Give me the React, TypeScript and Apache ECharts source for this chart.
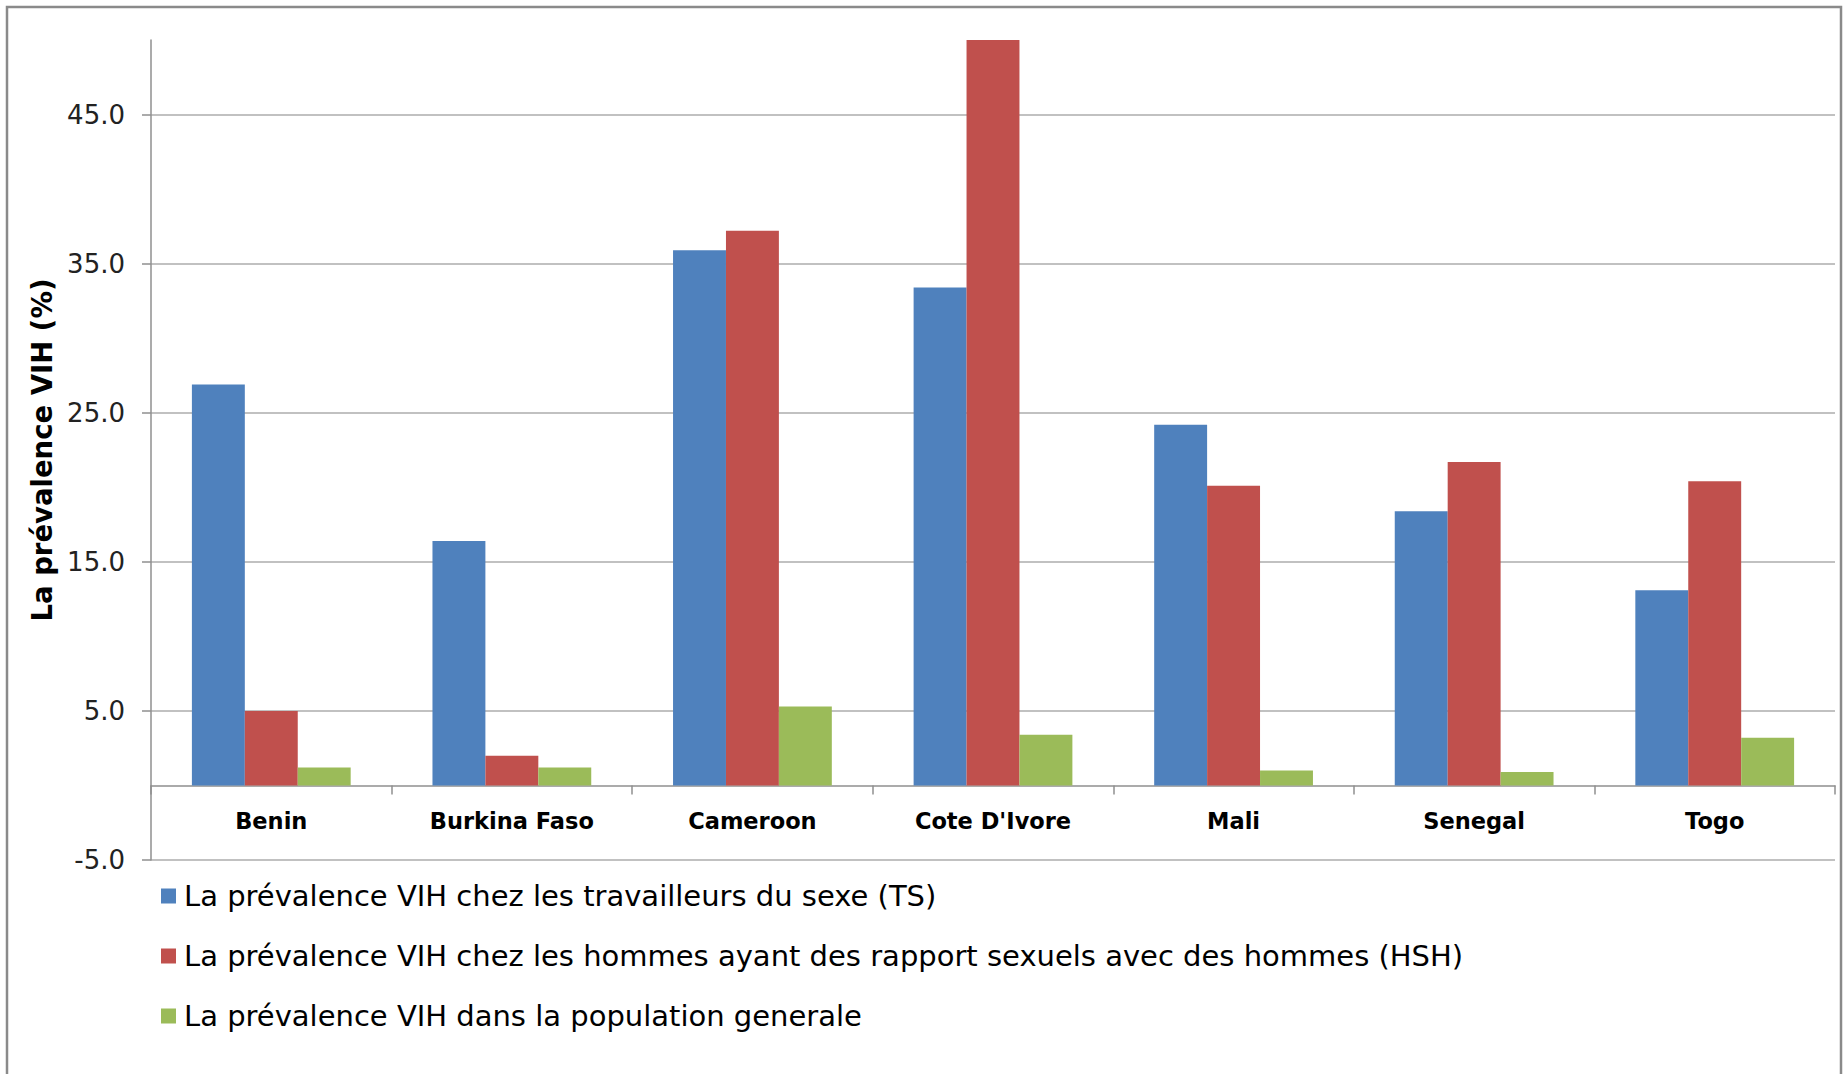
import React, { useEffect, useRef } from "react";
import * as echarts from "echarts";

const categories = ["Benin", "Burkina Faso", "Cameroon", "Cote D'Ivore", "Mali", "Senegal", "Togo"];
const tsValues = [26.9, 16.4, 35.9, 33.4, 24.2, 18.4, 13.1];
const hshValues = [5.0, 2.0, 37.2, 50.0, 20.1, 21.7, 20.4];
const genValues = [1.2, 1.2, 5.3, 3.4, 1.0, 0.9, 3.2];
const yTicks = [-5, 5, 15, 25, 35, 45];
const seriesNames = [
  "La prévalence VIH chez les travailleurs du sexe (TS)",
  "La prévalence VIH chez les hommes ayant des rapport sexuels avec des hommes (HSH)",
  "La prévalence VIH dans la population generale",
];
const yAxisName = "La prévalence VIH (%)";

const FONT = "'DejaVu Sans', sans-serif";
const Y_MIN = -5;
const Y_MAX = 50;
const GRID_TOP = 40;
const GRID_BOTTOM = 214;
const CHART_H = 1074;

export default function App() {
  const ref = useRef<HTMLDivElement>(null);
  useEffect(() => {
    if (!ref.current) return;
    const chart = echarts.init(ref.current, null, { renderer: "svg" });
    const colors = ["#4F81BD", "#C0504D", "#9BBB59"];
    const values = [tsValues, hshValues, genValues];
    const plotH = CHART_H - GRID_TOP - GRID_BOTTOM;
    const zeroOffset = -((0 - Y_MIN) / (Y_MAX - Y_MIN)) * plotH;
    chart.setOption({
      animation: false,
      backgroundColor: "#ffffff",
      textStyle: { fontFamily: FONT },
      graphic: [
        {
          type: "rect",
          shape: { x: 7, y: 7, width: 1834, height: 1100 },
          style: { fill: "none", stroke: "#8a8a8a", lineWidth: 2.5 },
          silent: true,
          z: 100,
        },
      ],
      grid: { left: 151, right: 11, top: GRID_TOP, bottom: GRID_BOTTOM, containLabel: false },
      legend: {
        orient: "vertical",
        left: 161,
        top: 881,
        padding: 0,
        icon: "rect",
        itemWidth: 15,
        itemHeight: 15,
        itemGap: 30,
        textStyle: { fontSize: 29, color: "#000", fontFamily: FONT, lineHeight: 30, padding: [0, 0, 0, 3] },
        data: seriesNames,
      },
      xAxis: {
        type: "category",
        data: categories,
        offset: zeroOffset,
        axisLine: { show: true, onZero: false, lineStyle: { color: "#8f8f8f", width: 1.5 } },
        axisTick: { show: true, length: 9, lineStyle: { color: "#8f8f8f", width: 1.5 } },
        axisLabel: { fontSize: 22.5, fontWeight: "bold", color: "#000", margin: 24, fontFamily: FONT },
        splitLine: { show: false },
      },
      yAxis: {
        type: "value",
        min: Y_MIN,
        max: Y_MAX,
        name: yAxisName,
        nameLocation: "middle",
        nameRotate: 90,
        nameGap: 95,
        nameTextStyle: { fontSize: 27.5, fontWeight: "bold", color: "#000", fontFamily: FONT },
        axisLine: { show: true, lineStyle: { color: "#8f8f8f", width: 1.5 } },
        axisTick: { show: true, length: 9, customValues: yTicks, lineStyle: { color: "#8f8f8f", width: 1.5 } },
        axisLabel: {
          customValues: yTicks,
          fontSize: 26,
          color: "#222",
          margin: 26,
          fontFamily: FONT,
          formatter: (v: number) => v.toFixed(1),
        },
        splitLine: { show: true, lineStyle: { color: "#acacac", width: 1.5 } },
      },
      series: seriesNames.map((name, i) => ({
        name,
        type: "bar",
        data: values[i],
        barGap: "0%",
        barCategoryGap: "34%",
        itemStyle: { color: colors[i] },
      })),
    });
    return () => chart.dispose();
  }, []);
  return (
    <div
      ref={ref}
      style={{ position: "absolute", left: 0, top: 0, width: 1846, height: 1074 }}
    />
  );
}
